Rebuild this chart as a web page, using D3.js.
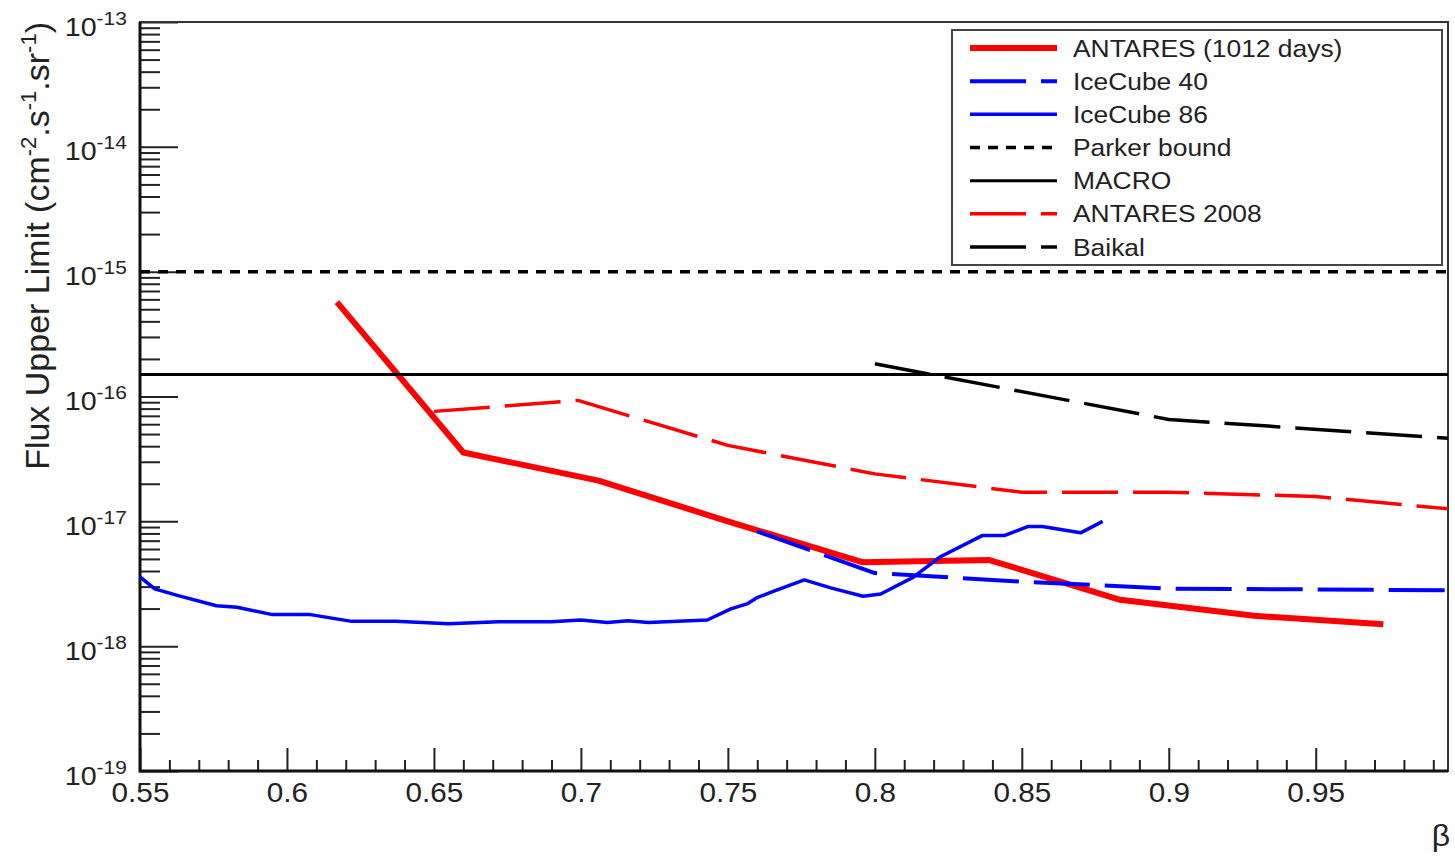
<!DOCTYPE html>
<html>
<head>
<meta charset="utf-8">
<script src="https://cdn.jsdelivr.net/npm/d3@7"></script>
<style>
  html, body { margin: 0; padding: 0; background: #fff; }
  svg { display: block; font-family: "Liberation Sans", Arial, Helvetica, sans-serif; }
</style>
</head>
<body>
<div id="chart"></div>
<script>
// values: [beta, flux upper limit in cm^-2 s^-1 sr^-1]
const antares1012 = [[0.617, 5.7e-16], [0.66, 3.56e-17], [0.706, 2.12e-17], [0.75, 1.0e-17],
  [0.796, 4.7e-18], [0.839, 4.9e-18], [0.8835, 2.35e-18], [0.929, 1.75e-18], [0.973, 1.5e-18]];
const icecube40 = [[0.76, 8.3e-18], [0.80, 3.85e-18], [0.85, 3.29e-18], [0.90, 2.89e-18],
  [0.95, 2.85e-18], [0.995, 2.8e-18]];
const icecube86 = [[0.55, 3.59e-18], [0.555, 2.88e-18], [0.563, 2.54e-18], [0.576, 2.11e-18],
  [0.583, 2.05e-18], [0.595, 1.79e-18], [0.608, 1.79e-18], [0.622, 1.58e-18], [0.637, 1.58e-18],
  [0.655, 1.51e-18], [0.672, 1.57e-18], [0.69, 1.57e-18], [0.70, 1.62e-18], [0.709, 1.55e-18],
  [0.716, 1.6e-18], [0.723, 1.55e-18], [0.743, 1.62e-18], [0.751, 1.99e-18], [0.7565, 2.18e-18],
  [0.760, 2.45e-18], [0.765, 2.72e-18], [0.776, 3.4e-18], [0.785, 2.93e-18], [0.796, 2.51e-18],
  [0.802, 2.62e-18], [0.813, 3.56e-18], [0.822, 5.15e-18], [0.8365, 7.69e-18], [0.844, 7.69e-18],
  [0.852, 9.08e-18], [0.857, 9.08e-18], [0.870, 8.09e-18], [0.8775, 1.0e-17]];
const parker = [[0.55, 1e-15], [0.995, 1e-15]];
const macro = [[0.55, 1.5e-16], [0.995, 1.5e-16]];
const antares2008 = [[0.65, 7.6e-17], [0.699, 9.3e-17], [0.75, 4.06e-17], [0.80, 2.4e-17],
  [0.85, 1.71e-17], [0.90, 1.71e-17], [0.95, 1.58e-17], [0.995, 1.26e-17]];
const baikal = [[0.8, 1.83e-16], [0.9, 6.55e-17], [0.995, 4.64e-17]];

const legendLabels = ["ANTARES (1012 days)", "IceCube 40", "IceCube 86", "Parker bound",
  "MACRO", "ANTARES 2008", "Baikal"];
const xMajor = [0.55, 0.6, 0.65, 0.7, 0.75, 0.8, 0.85, 0.9, 0.95];
const yExponents = [-19, -18, -17, -16, -15, -14, -13];

const width = 1455, height = 860;
const pl = 140, pr = 1448, pt = 22, pb = 771;
const sx = 1.1; // the picture is a little wider than tall, text too

const svg = d3.select("#chart").append("svg")
  .attr("width", width).attr("height", height)
  .attr("viewBox", [0, 0, width, height]);

const x = d3.scaleLinear().domain([0.55, 0.995]).range([pl, pr]);
const y = d3.scaleLog().domain([1e-19, 1e-13]).range([pb, pt]);

svg.append("clipPath").attr("id", "clip")
  .append("rect").attr("x", pl).attr("y", pt).attr("width", pr - pl).attr("height", pb - pt);

// minor ticks
const xMinor = d3.range(56, 100).map(d => d / 100).filter(d => !xMajor.some(m => Math.abs(m - d) < 1e-6));
const yMinor = [];
yExponents.slice(0, -1).forEach(e => { for (let m = 2; m <= 9; m++) yMinor.push(m * Math.pow(10, e)); });

svg.append("g").attr("transform", `translate(0,${pb})`)
  .call(d3.axisBottom(x).tickValues(xMinor).tickSizeInner(-11).tickSizeOuter(0).tickFormat(""))
  .call(g => g.select(".domain").remove())
  .call(g => g.selectAll("line").attr("stroke", "#222").attr("stroke-width", 2));

const xAxis = svg.append("g").attr("transform", `translate(0,${pb})`)
  .call(d3.axisBottom(x).tickValues(xMajor).tickSizeInner(-23).tickSizeOuter(0).tickFormat(d3.format(".2~f")))
  .call(g => g.select(".domain").remove())
  .call(g => g.selectAll("line").attr("stroke", "#222").attr("stroke-width", 2));
xAxis.selectAll("text")
  .attr("y", 31).attr("dy", null)
  .attr("font-size", 27).attr("fill", "#222")
  .attr("font-family", "Liberation Sans, Arial, sans-serif")
  .attr("transform", `scale(${sx},1)`);

svg.append("g").attr("transform", `translate(${pl},0)`)
  .call(d3.axisLeft(y).tickValues(yMinor).tickSizeInner(-20).tickSizeOuter(0).tickFormat(""))
  .call(g => g.select(".domain").remove())
  .call(g => g.selectAll("line").attr("stroke", "#222").attr("stroke-width", 2));

const yAxis = svg.append("g").attr("transform", `translate(${pl},0)`)
  .call(d3.axisLeft(y).tickValues(yExponents.map(e => Math.pow(10, e))).tickSizeInner(-38).tickSizeOuter(0).tickFormat(""))
  .call(g => g.select(".domain").remove())
  .call(g => g.selectAll("line").attr("stroke", "#222").attr("stroke-width", 2));
yAxis.selectAll(".tick text")
  .attr("x", -12).attr("y", 13).attr("dy", null)
  .attr("fill", "#222").attr("font-family", "Liberation Sans, Arial, sans-serif")
  .attr("text-anchor", "end")
  .attr("transform", `scale(${sx},1)`)
  .each(function(d) {
    const t = d3.select(this).text(null);
    t.append("tspan").attr("font-size", 26).text("10");
    t.append("tspan").attr("font-size", 19).attr("dy", -11).text(Math.round(Math.log10(d)));
  });

// frame
svg.append("rect").attr("x", pl).attr("y", pt).attr("width", pr - pl).attr("height", pb - pt)
  .attr("fill", "none").attr("stroke", "#333").attr("stroke-width", 2);
svg.append("path").attr("d", `M${pl},${pt}V${pb}H${pr}`)
  .attr("fill", "none").attr("stroke", "#111").attr("stroke-width", 3);

// curves
const styles = [
  { data: antares1012, color: "#ff0000", w: 6, dash: null },
  { data: icecube40, color: "#0000ff", w: 4, dash: "56,15" },
  { data: icecube86, color: "#0000ff", w: 3.5, dash: null },
  { data: parker, color: "#000", w: 3.5, dash: "10,8" },
  { data: macro, color: "#000", w: 3, dash: null },
  { data: antares2008, color: "#ff0000", w: 3.5, dash: "56,15" },
  { data: baikal, color: "#000", w: 3.5, dash: "56,15" }
];
const line = d3.line().x(d => x(d[0])).y(d => y(d[1]));
svg.append("g").attr("clip-path", "url(#clip)")
  .selectAll("path").data(styles).join("path")
  .attr("d", d => line(d.data))
  .attr("fill", "none")
  .attr("stroke", d => d.color)
  .attr("stroke-width", d => d.w)
  .attr("stroke-dasharray", d => d.dash)
  .attr("stroke-linejoin", "round");

// legend
const lg = svg.append("g");
lg.append("rect").attr("x", 952).attr("y", 30).attr("width", 490).attr("height", 235)
  .attr("fill", "#fff").attr("stroke", "#444").attr("stroke-width", 2);
const rowY = d3.scalePoint().domain(legendLabels).range([48, 247]);
const rows = lg.selectAll("g.row").data(styles.map((s, i) => ({ ...s, label: legendLabels[i] })))
  .join("g").attr("class", "row")
  .attr("transform", d => `translate(0,${rowY(d.label)})`);
rows.append("line").attr("x1", 970).attr("x2", 1057)
  .attr("stroke", d => d.color).attr("stroke-width", d => d.w)
  .attr("stroke-dasharray", d => d.dash);
rows.append("text")
  .attr("transform", `translate(1073,8.5) scale(${sx},1)`)
  .attr("font-size", 24).attr("fill", "#222")
  .text(d => d.label);

// axis titles
const yt = svg.append("text")
  .attr("transform", `translate(49,${pt}) scale(1.0,1) rotate(-90)`)
  .attr("text-anchor", "end").attr("font-size", 34).attr("fill", "#222");
yt.append("tspan").text("Flux Upper Limit (cm");
yt.append("tspan").attr("font-size", 22).attr("dy", -13).text("-2");
yt.append("tspan").attr("dy", 13).text(".s");
yt.append("tspan").attr("font-size", 22).attr("dy", -13).text("-1");
yt.append("tspan").attr("dy", 13).text(".sr");
yt.append("tspan").attr("font-size", 22).attr("dy", -13).text("-1");
yt.append("tspan").attr("dy", 13).text(")");

svg.append("text")
  .attr("transform", `translate(1450,846) scale(${sx},1)`)
  .attr("text-anchor", "end").attr("font-size", 29).attr("fill", "#222")
  .text("β");
</script>
</body>
</html>
